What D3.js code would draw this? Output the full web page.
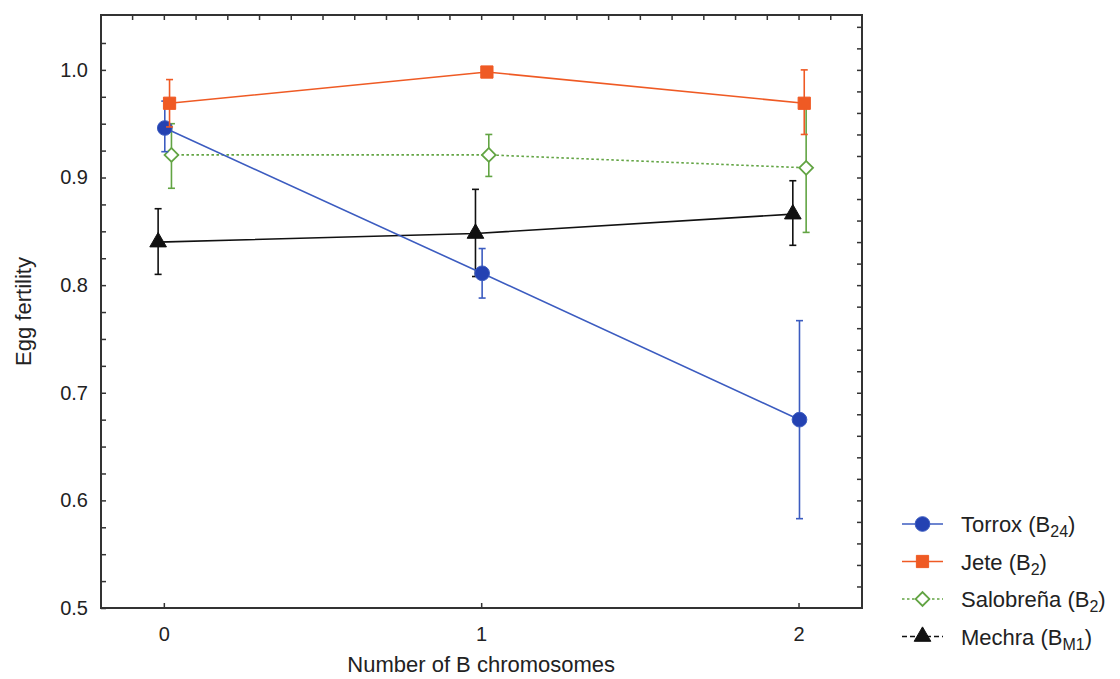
<!DOCTYPE html>
<html>
<head>
<meta charset="utf-8">
<script src="https://cdn.jsdelivr.net/npm/d3@7"></script>
<style>
  body { margin: 0; background: #fff; }
  text { font-family: "Liberation Sans", Arial, sans-serif; fill: #222; }
</style>
</head>
<body>
<svg width="1120" height="679"></svg>
<script>
// data
var xValues = [0, 1, 2];
var seriesNames = ["Torrox", "Jete", "Salobreña", "Mechra"];
var seriesSubs = ["24", "2", "2", "M1"];
var torrox = [0.946, 0.811, 0.675];
var torroxLo = [0.924, 0.788, 0.583];
var torroxHi = [0.971, 0.834, 0.767];
var jete = [0.969, 0.998, 0.969];
var jeteLo = [0.947, 0.998, 0.940];
var jeteHi = [0.991, 0.998, 1.000];
var salo = [0.921, 0.921, 0.909];
var saloLo = [0.890, 0.901, 0.849];
var saloHi = [0.950, 0.940, 0.969];
var mechra = [0.840, 0.848, 0.866];
var mechraLo = [0.810, 0.808, 0.837];
var mechraHi = [0.871, 0.889, 0.897];
var dodge = [0.003, 0.018, 0.024, -0.018];
var yTicks = [0.5, 0.6, 0.7, 0.8, 0.9, 1.0];

var means = [torrox, jete, salo, mechra];
var lows = [torroxLo, jeteLo, saloLo, mechraLo];
var highs = [torroxHi, jeteHi, saloHi, mechraHi];

var colors = ["#3c5cc0", "#ef5a24", "#62a443", "#111111"];
var fills = ["#2442b2", "#ef5a24", "#ffffff", "#111111"];
var dashes = [null, null, "2.5,2.5", null];
var legendDash = [null, null, "2.5,2.5", "5,3"];
var symbols = [d3.symbolCircle, d3.symbolSquare, d3.symbolSquare, d3.symbolTriangle];
var symSizes = [170, 150, 95, 120];
var symRot = [0, 0, 45, 0];

var svg = d3.select("svg");
var pL = 101, pR = 862, pT = 15, pB = 608;

var x = d3.scaleLinear().domain([-0.198, 2.2]).range([pL, pR]);
var y = d3.scaleLinear().domain([0.5, 1.051]).range([pB, pT]);

// axes
var yAxis = d3.axisLeft(y)
  .tickValues(d3.range(0, 22).map(function(i){ return 0.5 + i * 0.025; }))
  .tickSize(-5).tickPadding(13)
  .tickFormat(function(d){
    var r = Math.round(d * 1000) / 1000;
    return yTicks.indexOf(r) >= 0 ? d3.format(".1f")(r) : "";
  });
var gy = svg.append("g").attr("transform", "translate(" + pL + ",0)").call(yAxis);

var xAxis = d3.axisBottom(x).tickValues(xValues).tickSize(-5).tickPadding(19).tickFormat(d3.format("d"));
var gx = svg.append("g").attr("transform", "translate(0," + pB + ")").call(xAxis);

var topAxis = d3.axisTop(x).tickValues(d3.range(-1, 22).map(function(i){ return i / 10; }))
  .tickSize(-5).tickFormat("");
var gt = svg.append("g").attr("transform", "translate(0," + pT + ")").call(topAxis);

var rightAxis = d3.axisRight(y).tickValues(d3.range(1, 28).map(function(i){ return 0.5 + i * 0.02; }))
  .tickSize(-5).tickFormat("");
var gr = svg.append("g").attr("transform", "translate(" + pR + ",0)").call(rightAxis);

[gy, gx, gt, gr].forEach(function(g){
  g.select(".domain").remove();
  g.selectAll(".tick line").attr("stroke", "#333").attr("stroke-width", 1.5);
  g.selectAll(".tick text").style("font-size", "20px").attr("fill", "#222");
});

svg.append("rect")
  .attr("x", pL).attr("y", pT)
  .attr("width", pR - pL).attr("height", pB - pT)
  .attr("fill", "none").attr("stroke", "#333").attr("stroke-width", 2);

// axis titles
svg.append("text")
  .attr("transform", "translate(31," + ((pT + pB) / 2) + ") rotate(-90)")
  .attr("text-anchor", "middle")
  .style("font-size", "22px")
  .text("Egg fertility");

svg.append("text")
  .attr("x", x(1)).attr("y", 672)
  .attr("text-anchor", "middle")
  .style("font-size", "22px")
  .text("Number of B chromosomes");

// series
var line = d3.line()
  .x(function(d){ return x(d.x); })
  .y(function(d){ return y(d.y); });

var order = [3, 2, 0, 1];
order.forEach(function(s){
  var pts = xValues.map(function(v, i){
    return { x: v + dodge[s], y: means[s][i], lo: lows[s][i], hi: highs[s][i] };
  });
  var g = svg.append("g");

  g.append("path").datum(pts)
    .attr("d", line)
    .attr("fill", "none")
    .attr("stroke", colors[s])
    .attr("stroke-width", 1.6)
    .attr("stroke-dasharray", dashes[s]);

  var bars = g.selectAll(".err").data(pts).enter().append("g");
  bars.append("line")
    .attr("x1", function(d){ return x(d.x); })
    .attr("x2", function(d){ return x(d.x); })
    .attr("y1", function(d){ return y(d.lo); })
    .attr("y2", function(d){ return y(d.hi); })
    .attr("stroke", colors[s]).attr("stroke-width", 1.6);
  ["lo", "hi"].forEach(function(k){
    bars.append("line")
      .attr("x1", function(d){ return x(d.x) - 3.5; })
      .attr("x2", function(d){ return x(d.x) + 3.5; })
      .attr("y1", function(d){ return y(d[k]); })
      .attr("y2", function(d){ return y(d[k]); })
      .attr("stroke", colors[s]).attr("stroke-width", 1.6);
  });

  g.selectAll(".pt").data(pts).enter().append("path")
    .attr("transform", function(d){ return "translate(" + x(d.x) + "," + y(d.y) + ") rotate(" + symRot[s] + ")"; })
    .attr("d", d3.symbol().type(symbols[s]).size(symSizes[s]))
    .attr("fill", fills[s])
    .attr("stroke", colors[s])
    .attr("stroke-width", s === 2 ? 1.8 : 1);
});

// legend
var legend = svg.append("g").attr("transform", "translate(902,0)");
var rows = legend.selectAll("g").data(seriesNames).enter().append("g")
  .attr("transform", function(d, i){ return "translate(0," + (524 + i * 37.5) + ")"; });

rows.append("line")
  .attr("x1", 0).attr("x2", 41).attr("y1", 0).attr("y2", 0)
  .attr("stroke", function(d, i){ return colors[i]; })
  .attr("stroke-width", 1.6)
  .attr("stroke-dasharray", function(d, i){ return legendDash[i]; });

rows.append("path")
  .attr("transform", function(d, i){ return "translate(20.5,0) rotate(" + symRot[i] + ")"; })
  .attr("d", function(d, i){ return d3.symbol().type(symbols[i]).size(symSizes[i])(); })
  .attr("fill", function(d, i){ return fills[i]; })
  .attr("stroke", function(d, i){ return colors[i]; })
  .attr("stroke-width", function(d, i){ return i === 2 ? 1.8 : 1; });

var lt = rows.append("text")
  .attr("x", 59).attr("y", 8)
  .style("font-size", "22px");
lt.append("tspan").text(function(d){ return d + " (B"; });
lt.append("tspan").attr("dy", 5).style("font-size", "16px").text(function(d, i){ return seriesSubs[i]; });
lt.append("tspan").attr("dy", -5).text(")");
</script>
</body>
</html>
